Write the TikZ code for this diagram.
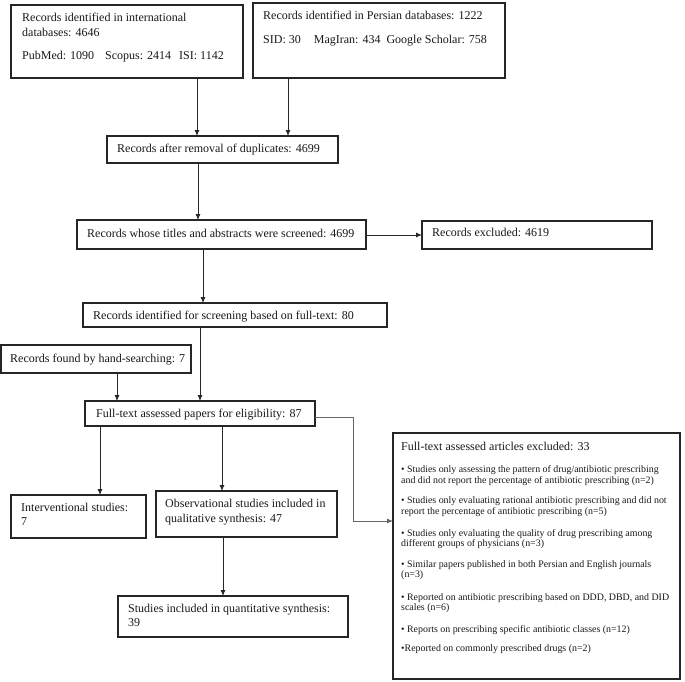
\documentclass[tikz,border=0pt]{standalone}
\usepackage{fontspec}
\setmainfont{Liberation Serif}
\usetikzlibrary{arrows.meta}
\begin{document}
\begin{tikzpicture}[x=1pt,y=-1pt,
 box/.style={draw=black!85, line width=1.1pt, inner sep=0pt, outer sep=0pt, anchor=north west},
 txt/.style={anchor=base west, inner sep=0pt, text=black!90, font=\fontsize{12}{14}\selectfont},
 small/.style={anchor=base west, inner sep=0pt, text=black!90, font=\fontsize{9.9}{11}\selectfont},
 arr/.style={draw=black!85, line width=0.9pt, -{Latex[length=6pt,width=5pt]}},
 ln/.style={draw=black!60, line width=0.8pt}]
\useasboundingbox (0,0) rectangle (685,681);
\fill[white] (0,0) rectangle (685,681);

% boxes
\node[box, minimum width=232pt, minimum height=73pt] (int) at (11,5) {};
\node[box, minimum width=252pt, minimum height=75pt] (per) at (253,3) {};
\node[box, minimum width=231pt, minimum height=27pt] (dup) at (107,136) {};
\node[box, minimum width=289pt, minimum height=29pt] (scr) at (77,220) {};
\node[box, minimum width=230pt, minimum height=28pt] (exc) at (422,221) {};
\node[box, minimum width=304pt, minimum height=24pt] (ft) at (83,303) {};
\node[box, minimum width=190pt, minimum height=28pt] (hand) at (1,345) {};
\node[box, minimum width=230pt, minimum height=25pt] (elig) at (85,401) {};
\node[box, minimum width=135pt, minimum height=43pt] (intv) at (11,495) {};
\node[box, minimum width=181pt, minimum height=46pt] (obs) at (156,491) {};
\node[box, minimum width=230pt, minimum height=41pt] (quant) at (118,596) {};
\node[box, minimum width=287pt, minimum height=246pt] (big) at (393,433) {};

% texts
\node[txt] (t1a) at (22,21) {Records identified in international};
\node[txt] (t1b) at (22,36) {databases: 4646};
\node[txt] (t1c) at (22,59) {PubMed: 1090\hspace{11pt}Scopus: 2414\hspace{8pt}ISI: 1142};
\node[txt] (t2a) at (263,19) {Records identified in Persian databases: 1222};
\node[txt] (t2b) at (263,43) {SID: 30\hspace{13pt}MagIran: 434\hspace{6pt}Google Scholar: 758};
\node[txt] (t3) at (117,152) {Records after removal of duplicates: 4699};
\node[txt] (t4) at (87,237) {Records whose titles and abstracts were screened: 4699};
\node[txt] (t5) at (432,236) {Records excluded: 4619};
\node[txt] (t6) at (93,319) {Records identified for screening based on full-text: 80};
\node[txt] (t7) at (10,362) {Records found by hand-searching: 7};
\node[txt] (t8) at (96,417) {Full-text assessed papers for eligibility: 87};
\node[txt] (t9a) at (21,511) {Interventional studies:};
\node[txt] (t9b) at (21,525) {7};
\node[txt] (t10a) at (165,507) {Observational studies included in};
\node[txt] (t10b) at (165,522) {qualitative synthesis: 47};
\node[txt] (t11a) at (128,612) {Studies included in quantitative synthesis:};
\node[txt] (t11b) at (128,626) {39};
\node[txt] (t12) at (401,450) {Full-text assessed articles excluded: 33};
\node[small] (b1a) at (401,472) {\textbullet\ Studies only assessing the pattern of drug/antibiotic prescribing};
\node[small] (b1b) at (401,483) {and did not report the percentage of antibiotic prescribing (n=2)};
\node[small] (b2a) at (401,503) {\textbullet\ Studies only evaluating rational antibiotic prescribing and did not};
\node[small] (b2b) at (401,514) {report the percentage of antibiotic prescribing (n=5)};
\node[small] (b3a) at (401,536) {\textbullet\ Studies only evaluating the quality of drug prescribing among};
\node[small] (b3b) at (401,546) {different groups of physicians (n=3)};
\node[small] (b4a) at (401,567) {\textbullet\ Similar papers published in both Persian and English journals};
\node[small] (b4b) at (401,577) {(n=3)};
\node[small] (b5a) at (401,600) {\textbullet\ Reported on antibiotic prescribing based on DDD, DBD, and DID};
\node[small] (b5b) at (401,610) {scales (n=6)};
\node[small] (b6) at (401,632) {\textbullet\ Reports on prescribing specific antibiotic classes (n=12)};
\node[small] (b7) at (401,651) {\textbullet Reported on commonly prescribed drugs (n=2)};

% connector x positions
\coordinate (x1) at (197,0);
\coordinate (x2) at (288,0);
\coordinate (x3) at (198,0);
\coordinate (x4) at (203,0);
\coordinate (x5) at (117,0);
\coordinate (x6) at (200,0);
\coordinate (x7) at (100,0);
\coordinate (x8) at (222,0);
\coordinate (x9) at (223,0);
\coordinate (ya) at (0,235);
\coordinate (yb) at (0,417);
\coordinate (yc) at (0,521);
\coordinate (xr) at (353,0);

\draw[arr] (int.south -| x1) -- (dup.north -| x1);
\draw[arr] (per.south -| x2) -- (dup.north -| x2);
\draw[arr] (dup.south -| x3) -- (scr.north -| x3);
\draw[arr] (scr.east |- ya) -- (exc.west |- ya);
\draw[arr] (scr.south -| x4) -- (ft.north -| x4);
\draw[arr] (hand.south -| x5) -- (elig.north -| x5);
\draw[arr] (ft.south -| x6) -- (elig.north -| x6);
\draw[arr] (elig.south -| x7) -- (intv.north -| x7);
\draw[arr] (elig.south -| x8) -- (obs.north -| x8);
\draw[arr] (obs.south -| x9) -- (quant.north -| x9);
\draw[ln] (elig.east |- yb) -- (xr |- yb) -- (xr |- yc);
\draw[arr, draw=black!60, line width=0.8pt] (xr |- yc) -- (big.west |- yc);
\end{tikzpicture}
\end{document}
